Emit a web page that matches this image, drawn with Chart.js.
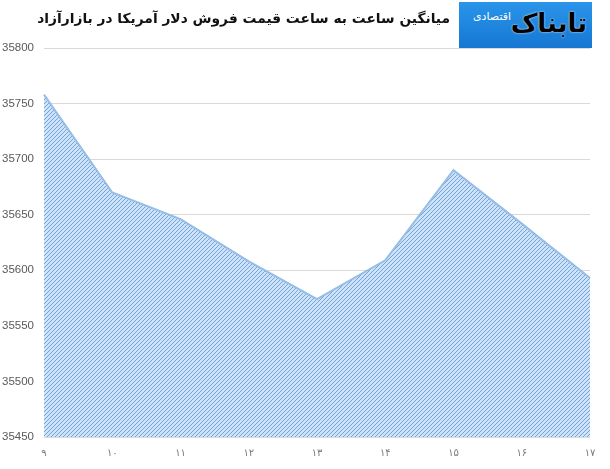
<!DOCTYPE html>
<html>
<head>
<meta charset="utf-8">
<script src="https://cdn.jsdelivr.net/npm/chart.js@4"></script>
<style>
html,body{margin:0;padding:0;background:#fff;}
#wrap{position:relative;width:610px;height:469px;overflow:hidden;}
#c{position:absolute;left:0;top:0;}
#title{position:absolute;right:160px;top:10px;font-family:"DejaVu Sans",sans-serif;font-weight:bold;font-size:13.8px;color:#111;direction:rtl;white-space:nowrap;}
#logo{position:absolute;left:459px;top:2px;width:133px;height:46px;background:linear-gradient(#2a95ea,#1677d2);overflow:hidden;}
#logo .big{position:absolute;right:5px;top:4px;font-family:"DejaVu Sans",sans-serif;font-weight:bold;font-size:26px;line-height:34px;color:#000;direction:rtl;text-shadow:0 0 2px #fff;}
#logo .small{position:absolute;left:14px;top:8px;font-family:"DejaVu Sans",sans-serif;font-size:11px;color:#fff;direction:rtl;}
</style>
</head>
<body>
<div id="wrap">
<canvas id="c" width="610" height="469"></canvas>
<div id="title">میانگین ساعت به ساعت قیمت فروش دلار آمریکا در بازارآزاد</div>
<div id="logo"><span class="small">اقتصادی</span><span class="big">تابناک</span></div>
</div>
<script>
const hours = ['۹','۱۰','۱۱','۱۲','۱۳','۱۴','۱۵','۱۶','۱۷'];
const prices = [35758, 35670, 35646, 35608, 35574, 35609, 35690, 35642, 35593];
const yMin = 35450, yMax = 35800, yStep = 50;

const ctx = document.getElementById('c').getContext('2d');

function makePattern(){
  const p = document.createElement('canvas');
  p.width = 4; p.height = 4;
  const g = p.getContext('2d');
  g.fillStyle = '#cfe3f8';
  g.fillRect(0,0,4,4);
  g.strokeStyle = '#72a3dc';
  g.lineWidth = 1;
  g.beginPath();
  g.moveTo(-1,5); g.lineTo(5,-1);
  g.moveTo(-1,1); g.lineTo(1,-1);
  g.moveTo(3,5); g.lineTo(5,3);
  g.stroke();
  return ctx.createPattern(p,'repeat');
}

new Chart(ctx, {
  type: 'line',
  data: {
    labels: hours,
    datasets: [{
      data: prices,
      borderColor: '#95bde6',
      borderWidth: 2,
      backgroundColor: makePattern(),
      fill: 'start',
      pointRadius: 0,
      tension: 0
    }]
  },
  options: {
    responsive: false,
    animation: false,
    devicePixelRatio: 1,
    layout: { padding: { top: 48, right: 20, left: 0, bottom: 0 } },
    plugins: { legend: { display: false }, tooltip: { enabled: false } },
    scales: {
      x: {
        offset: false,
        grid: { display: false, drawTicks: false },
        border: { display: false },
        ticks: { color: '#7a7a7a', font: { family: 'DejaVu Sans', size: 10 }, padding: 10, maxRotation: 0, autoSkip: false },
        afterFit: s => { s.height = 32; }
      },
      y: {
        min: yMin, max: yMax,
        grid: { color: '#d9d9d9', drawTicks: false, lineWidth: 1 },
        border: { display: false },
        ticks: { stepSize: yStep, color: '#595959', font: { family: 'Liberation Sans', size: 11.5 }, padding: 10, callback: v => String(v) },
        afterFit: s => { s.width = 44; }
      }
    }
  }
});
</script>
</body>
</html>
